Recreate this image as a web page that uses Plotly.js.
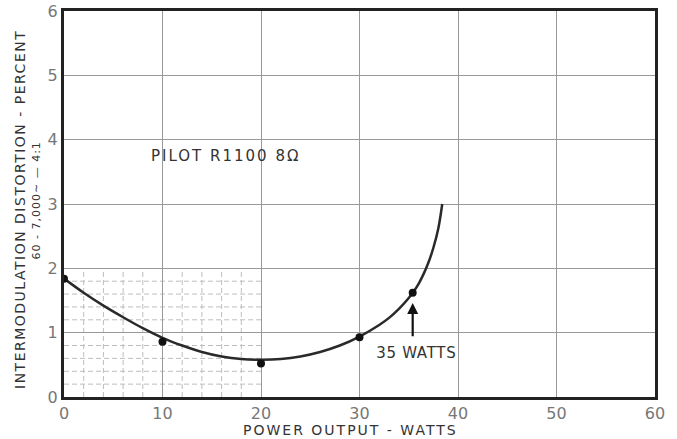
<!DOCTYPE html>
<html>
<head>
<meta charset="utf-8">
<script src="https://cdn.plot.ly/plotly-3.0.1.min.js"></script>
<style>html,body{margin:0;padding:0;background:#fff;}#chart{width:677px;height:439px;}</style>
</head>
<body>
<div id="chart"></div>
<script>
// Measured points
const pointPower = [0, 10, 20, 30, 35.4];
const pointDist = [1.84, 0.86, 0.52, 0.93, 1.62];
// Drawn curve
const curvePower = [0, 2, 4, 6, 8, 10, 12, 14, 16, 18, 20, 22, 24, 26, 28, 30, 32, 33, 34, 35, 35.5, 36, 36.5, 37, 37.5, 38, 38.4];
const curveDist = [1.84, 1.62, 1.42, 1.24, 1.07, 0.92, 0.80, 0.70, 0.63, 0.59, 0.58, 0.59, 0.63, 0.70, 0.80, 0.94, 1.12, 1.23, 1.37, 1.54, 1.64, 1.76, 1.91, 2.09, 2.32, 2.62, 3.0];
// Fine grid region
const fineX = [2, 4, 6, 8, 12, 14, 16, 18];
const fineY = [0.2, 0.4, 0.6, 0.8, 1.2, 1.4, 1.6, 1.8];
const fineXMax = 20, fineYMax = 2;
const xTicks = [0, 10, 20, 30, 40, 50, 60];
const yTicks = [0, 1, 2, 3, 4, 5, 6];

const shapes = [];
fineX.forEach(v => shapes.push({type:'line', xref:'x', yref:'y', x0:v, x1:v, y0:0, y1:fineYMax, line:{color:'#bdbdbd', width:1, dash:'5px,3px'}, layer:'below'}));
fineY.forEach(v => shapes.push({type:'line', xref:'x', yref:'y', x0:0, x1:fineXMax, y0:v, y1:v, line:{color:'#bdbdbd', width:1, dash:'5px,3px'}, layer:'below'}));

const traces = [
  {x: curvePower, y: curveDist, mode:'lines', line:{color:'#2a2a2a', width:2.5, shape:'spline', smoothing:1}, hoverinfo:'skip'},
  {x: pointPower, y: pointDist, mode:'markers', marker:{color:'#111', size:8}, hoverinfo:'skip'}
];

const tickFont = {family:'DejaVu Sans', size:16, color:'#777'};
const textColor = '#333';
const layout = {
  width:677, height:439,
  margin:{l:64, r:22, t:11, b:42},
  paper_bgcolor:'#fff', plot_bgcolor:'#fff',
  showlegend:false,
  font:{family:'DejaVu Sans'},
  xaxis:{range:[0,60], tickvals:xTicks, ticktext:xTicks.map(String), showgrid:true, gridcolor:'#999', gridwidth:1,
         showline:true, mirror:true, linecolor:'#222', linewidth:3, zeroline:false, ticks:'', tickfont:tickFont},
  yaxis:{range:[0,6], tickvals:yTicks, ticktext:yTicks.map(String), showgrid:true, gridcolor:'#999', gridwidth:1,
         showline:true, mirror:true, linecolor:'#222', linewidth:3, zeroline:false, ticks:'', tickfont:tickFont},
  shapes: shapes,
  annotations:[
    {xref:'x', yref:'y', x:16.4, y:3.75, text:'PILOT R1100 8Ω', showarrow:false, font:{family:'DejaVu Sans', size:15, color:textColor}},
    {xref:'x', yref:'y', x:35.8, y:0.68, text:'35 WATTS', showarrow:false, font:{family:'DejaVu Sans', size:15, color:textColor}},
    {xref:'x', yref:'y', x:35.4, y:1.46, axref:'x', ayref:'y', ax:35.4, ay:0.92, text:'', showarrow:true, arrowhead:2, arrowsize:1, arrowwidth:2.2, arrowcolor:'#111'},
    {xref:'paper', yref:'paper', x:(20-64)/591, y:(397-209)/386, xanchor:'center', yanchor:'middle', text:'INTERMODULATION DISTORTION - PERCENT', textangle:-90, showarrow:false, font:{family:'DejaVu Sans', size:14, color:textColor}},
    {xref:'paper', yref:'paper', x:(36-64)/591, y:(397-201)/386, xanchor:'center', yanchor:'middle', text:'60 - 7,000∼ — 4:1', textangle:-90, showarrow:false, font:{family:'DejaVu Sans', size:11, color:textColor}},
    {xref:'paper', yref:'paper', x:(350-64)/591, y:(397-430)/386, xanchor:'center', yanchor:'middle', text:'POWER OUTPUT - WATTS', showarrow:false, font:{family:'DejaVu Sans', size:14, color:textColor}}
  ]
};
const spacing = {
  'PILOT R1100 8Ω':'2px',
  '35 WATTS':'0.7px',
  'INTERMODULATION DISTORTION - PERCENT':'1.5px',
  '60 - 7,000∼ — 4:1':'1px',
  'POWER OUTPUT - WATTS':'2px'
};
Plotly.newPlot('chart', traces, layout, {displayModeBar:false, staticPlot:true}).then(() => {
  document.querySelectorAll('#chart .annotation-text').forEach(el => {
    const s = spacing[el.textContent];
    if (s) el.style.letterSpacing = s;
  });
});
</script>
</body>
</html>
